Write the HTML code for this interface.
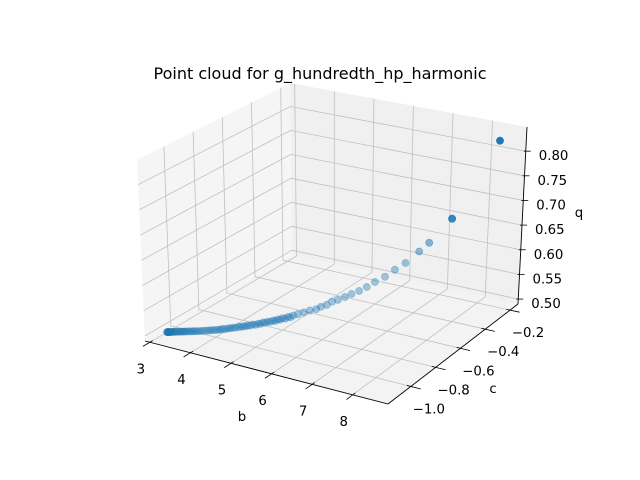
<!DOCTYPE html>
<html>
<head>
<meta charset="utf-8">
<style>
html,body{margin:0;padding:0;background:#fff;}
svg{display:block;font-family:"DejaVu Sans","Liberation Sans",sans-serif;}
</style>
</head>
<body>
<svg id="chart" width="640" height="480" viewBox="0 0 640 480" xmlns="http://www.w3.org/2000/svg">
  <rect width="640" height="480" fill="#ffffff"/>
  <text x="320" y="79" text-anchor="middle" font-size="16" fill="#000">Point cloud for g_hundredth_hp_harmonic</text>
  <g id="panes"></g>
  <g id="grid"></g>
  <g id="axes"></g>
  <g id="points"></g>
  <text x="242" y="421" text-anchor="middle" font-size="13.3">b</text>
  <text x="493" y="393" text-anchor="middle" font-size="13.3">c</text>
  <text x="579" y="217" text-anchor="middle" font-size="13.3">q</text>
</svg>
<script>
const bValues = [3.00,3.00,3.01,3.02,3.03,3.05,3.08,3.11,3.16,3.21,3.26,3.31,3.38,3.44,3.51,3.59,3.68,3.76,3.85,3.92,4.01,4.09,4.18,4.26,4.34,4.43,4.52,4.60,4.68,4.77,4.85,4.93,5.02,5.11,5.19,5.29,5.39,5.50,5.58,5.68,5.77,5.87,5.99,6.10,6.23,6.36,6.50,6.67,6.84,7.02,7.25,7.42,7.80,7.80,8.57];
const cValues = [-1.060,-1.060,-1.058,-1.057,-1.056,-1.054,-1.049,-1.044,-1.037,-1.029,-1.022,-1.015,-1.005,-0.996,-0.986,-0.974,-0.961,-0.949,-0.937,-0.926,-0.913,-0.901,-0.888,-0.876,-0.865,-0.853,-0.840,-0.828,-0.815,-0.803,-0.791,-0.779,-0.766,-0.754,-0.742,-0.727,-0.712,-0.697,-0.684,-0.670,-0.657,-0.643,-0.626,-0.609,-0.590,-0.571,-0.551,-0.526,-0.502,-0.476,-0.442,-0.418,-0.362,-0.362,-0.250];
const qValues = [0.490,0.490,0.490,0.490,0.490,0.490,0.490,0.490,0.490,0.490,0.490,0.490,0.490,0.490,0.490,0.4902,0.4906,0.491,0.4916,0.4925,0.4932,0.4943,0.4953,0.496,0.4975,0.499,0.500,0.502,0.503,0.505,0.5066,0.5085,0.5105,0.513,0.515,0.518,0.521,0.523,0.527,0.530,0.536,0.539,0.544,0.549,0.554,0.561,0.570,0.579,0.592,0.604,0.625,0.641,0.686,0.686,0.836];
const bDense = [3.005,3.015,3.025,3.04,3.065,3.095,3.135,3.185,3.235,3.285,3.345,3.41,3.475,3.55,3.635,3.72,3.805,3.885,3.965,4.05,4.135,4.22,4.30,4.385,4.475,4.56,4.64,4.725,4.81,4.89,4.975,5.065];
const cDense = [-1.059,-1.0575,-1.0565,-1.055,-1.0515,-1.0465,-1.0405,-1.033,-1.0255,-1.0185,-1.010,-1.0005,-0.991,-0.980,-0.9675,-0.955,-0.943,-0.9315,-0.9195,-0.907,-0.8945,-0.882,-0.8705,-0.859,-0.8465,-0.834,-0.8215,-0.809,-0.797,-0.785,-0.7725,-0.760];
const qDense = [0.490,0.490,0.490,0.490,0.490,0.490,0.490,0.490,0.490,0.490,0.490,0.490,0.490,0.490,0.4901,0.4904,0.4908,0.4913,0.492,0.4928,0.4937,0.4948,0.4956,0.4967,0.4982,0.4995,0.501,0.5025,0.504,0.5058,0.5075,0.5095];
const bTicks = [3,4,5,6,7,8];
const cTicks = [-1.0,-0.8,-0.6,-0.4,-0.2];
const qTicks = [0.50,0.55,0.60,0.65,0.70,0.75,0.80];
const bTickLabels = ["3","4","5","6","7","8"];
const cTickLabels = ["\u22121.0","\u22120.8","\u22120.6","\u22120.4","\u22120.2"];
const qTickLabels = ["0.50","0.55","0.60","0.65","0.70","0.75","0.80"];

const B0=2.88,B1=8.87,C0=-1.184,C1=-0.136,Q0=0.49,Q1=0.849;
const K={p000:[145,341],p100:[388,404],p110:[518,304],p010:[292,255],
         p001:[137,160],p101:[391,214],p111:[527,127],p011:[290,83]};
function proj(b,c,q){
  const u=(b-B0)/(B1-B0), v=(c-C0)/(C1-C0), w=(q-Q0)/(Q1-Q0);
  const r=[0,0];
  for(let i=0;i<2;i++){
    const f=(1-u)*(1-v)*K.p000[i]+u*(1-v)*K.p100[i]+u*v*K.p110[i]+(1-u)*v*K.p010[i];
    const t=(1-u)*(1-v)*K.p001[i]+u*(1-v)*K.p101[i]+u*v*K.p111[i]+(1-u)*v*K.p011[i];
    r[i]=f+(t-f)*w;
  }
  return r;
}
const NS='http://www.w3.org/2000/svg';
function mk(tag,attrs,parent){const e=document.createElementNS(NS,tag);for(const k in attrs)e.setAttribute(k,attrs[k]);parent.appendChild(e);return e;}
function poly(pts){return pts.map(p=>p[0].toFixed(1)+','+p[1].toFixed(1)).join(' ');}
const gP=document.getElementById('panes'),gG=document.getElementById('grid'),gA=document.getElementById('axes'),gD=document.getElementById('points');

let e;
e=mk('polygon',{points:poly([proj(B0,C0,Q0),proj(B0,C1,Q0),proj(B0,C1,Q1),proj(B0,C0,Q1)]),fill:'#f5f5f5'},gP);


e=mk('polygon',{points:poly([proj(B0,C1,Q0),proj(B1,C1,Q0),proj(B1,C1,Q1),proj(B0,C1,Q1)]),fill:'#f0f0f0'},gP);


e=mk('polygon',{points:poly([proj(B0,C0,Q0),proj(B1,C0,Q0),proj(B1,C1,Q0),proj(B0,C1,Q0)]),fill:'#f3f3f3'},gP);



const GS={stroke:'#c0c0c0','stroke-width':0.8,fill:'none'};
function line(a,b2,st,parent){const o=Object.assign({x1:a[0],y1:a[1],x2:b2[0],y2:b2[1]},st);return mk('line',o,parent);}

bTicks.forEach((b,i)=>{
  e=mk('polyline',Object.assign({points:poly([proj(b,C0,Q0),proj(b,C1,Q0),proj(b,C1,Q1)])},GS),gG);
  
  
  e=line(proj(b,C0+0.02,Q0),proj(b,C0-0.05,Q0),{stroke:'#000','stroke-width':0.8},gA);
  
  
  const p=proj(b,C0,Q0);
  e=mk('text',{x:p[0]-9,y:p[1]+31,'text-anchor':'middle','font-size':13.3},gA);
  e.textContent=bTickLabels[i];
  
  
});
cTicks.forEach((c,i)=>{
  e=mk('polyline',Object.assign({points:poly([proj(B1,c,Q0),proj(B0,c,Q0),proj(B0,c,Q1)])},GS),gG);
  
  
  e=line(proj(B1-0.1,c,Q0),proj(B1+0.25,c,Q0),{stroke:'#000','stroke-width':0.8},gA);
  
  
  const p=proj(B1,c,Q0);
  e=mk('text',{x:p[0]+18,y:p[1]+27,'text-anchor':'middle','font-size':13.3},gA);
  e.textContent=cTickLabels[i];
  
  
});
qTicks.forEach((q,i)=>{
  e=mk('polyline',Object.assign({points:poly([proj(B0,C0,q),proj(B0,C1,q),proj(B1,C1,q)])},GS),gG);
  
  
  const p=proj(B1,C1,q);
  e=line([p[0]-2,p[1]],[p[0]+5,p[1]],{stroke:'#000','stroke-width':0.8},gA);
  
  
  e=mk('text',{x:p[0]+13,y:p[1]+9,'text-anchor':'start','font-size':13.3},gA);
  e.textContent=qTickLabels[i];
  
  
});
e=line(proj(B0,C0,Q0),proj(B1,C0,Q0),{stroke:'#000','stroke-width':0.9},gA);


e=line(proj(B1,C0,Q0),proj(B1,C1,Q0),{stroke:'#000','stroke-width':0.9},gA);


e=line(proj(B1,C1,Q0),proj(B1,C1,Q1),{stroke:'#000','stroke-width':0.9},gA);



function drawPoint(b,c,q){
  const p=proj(b,c,q);
  const op=Math.min(1,0.4+Math.max(0,q-0.6)*3);
  const el=mk('circle',{cx:p[0].toFixed(1),cy:p[1].toFixed(1),r:3.6,fill:'#1f77b4','fill-opacity':op,stroke:'#1f77b4','stroke-opacity':op,'stroke-width':0.6},gD);
  
  
}
for(let i=0;i<bDense.length;i++){ drawPoint(bDense[i],cDense[i],qDense[i]); }
for(let i=0;i<bValues.length;i++){ drawPoint(bValues[i],cValues[i],qValues[i]); }
</script>
</body>
</html>
